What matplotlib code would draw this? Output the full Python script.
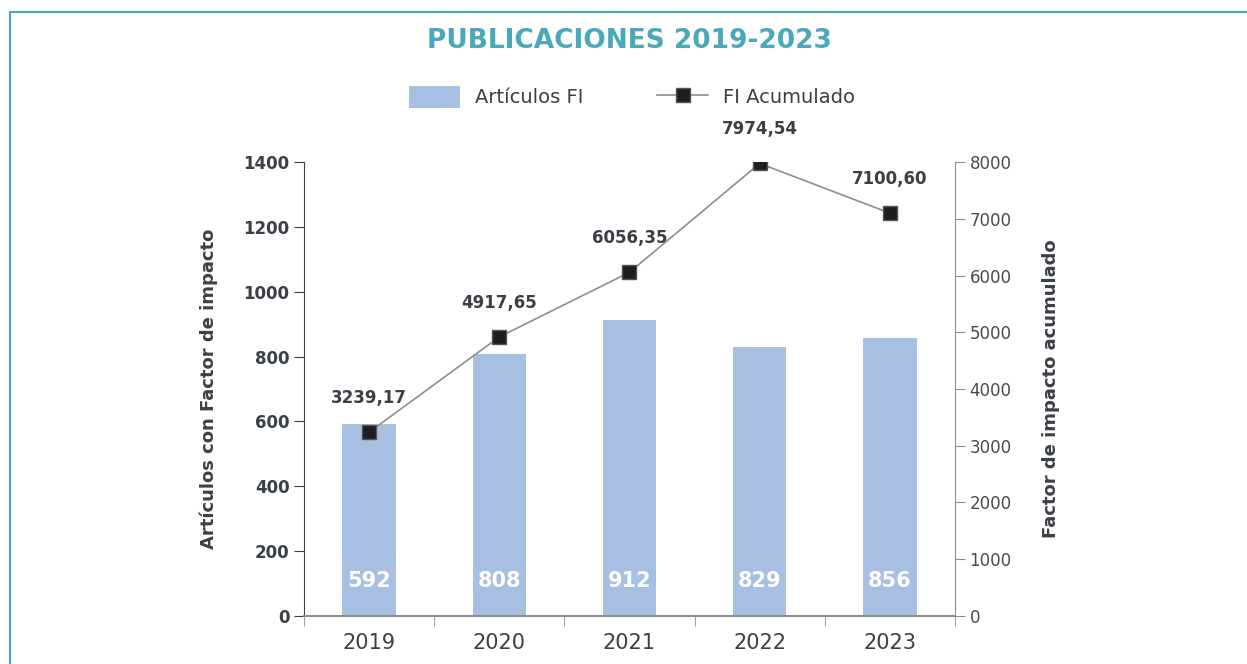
import numpy as np
import matplotlib.pyplot as plt
from matplotlib.lines import Line2D
from matplotlib.patches import Patch

years = ['2019', '2020', '2021', '2022', '2023']
articulos = [592, 808, 912, 829, 856]
fi_acumulado = [3239.17, 4917.65, 6056.35, 7974.54, 7100.60]

bar_color = '#a7bfe1'
teal = '#4aa9b9'
dark = '#3b3f46'
grey = '#8e8e8e'

fig = plt.figure(figsize=(12.47, 6.64), dpi=100)

# frame lines on top and left of the figure
fig.add_artist(Line2D([0.008, 1.0], [0.982, 0.982], color=teal, lw=1.5))
fig.add_artist(Line2D([0.008, 0.008], [0.0, 0.982], color=teal, lw=1.5))

ax = fig.add_axes([0.2438, 0.0723, 0.522, 0.6837])
x = np.arange(len(years))

ax.bar(x, articulos, width=0.41, color=bar_color, zorder=2)
for xi, v in zip(x, articulos):
    ax.text(xi, 108, str(v), ha='center', va='center', color='white',
            fontsize=15, fontweight='bold', zorder=3)

ax.set_xlim(-0.5, 4.5)
ax.set_ylim(0, 1400)
ax.set_yticks(np.arange(0, 1401, 200))
ax.set_xticks(x)
ax.set_xticklabels(years, fontsize=15, color=dark)
ax.set_xticks(np.arange(-0.5, 4.6, 1), minor=True)
ax.tick_params(axis='x', which='major', length=0, pad=12)
ax.tick_params(axis='x', which='minor', length=7, direction='out', color=grey)
ax.tick_params(axis='y', length=7, direction='out', color=dark, labelsize=12)
for lbl in ax.get_yticklabels():
    lbl.set_fontweight('bold')
    lbl.set_color(dark)
ax.set_ylabel('Artículos con Factor de impacto', fontsize=13, fontweight='bold',
              color=dark, labelpad=18)
for s in ['top', 'right']:
    ax.spines[s].set_visible(False)
ax.spines['left'].set_color(dark)
ax.spines['bottom'].set_color(grey)
ax.spines['bottom'].set_linewidth(1.5)

ax2 = ax.twinx()
ax2.plot(x, fi_acumulado, color=grey, lw=1.2, marker='s', markersize=10,
         markerfacecolor='#1e1e1e', markeredgecolor='#555555', zorder=4)
for xi, v in zip(x, fi_acumulado):
    ax2.annotate(f'{v:.2f}'.replace('.', ','), (xi, v), xytext=(0, 18),
                 textcoords='offset points', ha='center', va='bottom',
                 fontsize=12, fontweight='bold', color=dark)
ax2.set_ylim(0, 8000)
ax2.set_yticks(np.arange(0, 8001, 1000))
ax2.tick_params(axis='y', length=7, direction='out', color=grey,
                labelsize=12, labelcolor='#4a4a4a')
ax2.set_ylabel('Factor de impacto acumulado', fontsize=13, fontweight='bold',
               color=dark, labelpad=22)
for s in ['top', 'left', 'bottom']:
    ax2.spines[s].set_visible(False)
ax2.spines['right'].set_color(grey)

fig.text(0.505, 0.938, 'PUBLICACIONES 2019-2023', ha='center', va='center',
         fontsize=19, fontweight='bold', color=teal)

handles = [Patch(facecolor=bar_color, edgecolor='none'),
           Line2D([], [], color=grey, lw=1.2, marker='s', markersize=10,
                  markerfacecolor='#1e1e1e', markeredgecolor='#555555')]
fig.legend(handles, ['Artículos FI', 'FI Acumulado'], loc='center',
           bbox_to_anchor=(0.507, 0.854), ncol=2, frameon=False, fontsize=14,
           handlelength=2.6, handleheight=1.3, handletextpad=0.8,
           columnspacing=3.8, labelcolor=dark)

fig.savefig('out.png', dpi=100)
